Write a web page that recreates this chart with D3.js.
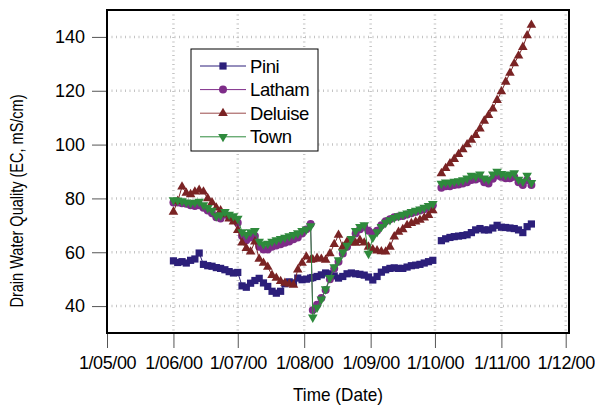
<!DOCTYPE html>
<html><head><meta charset="utf-8">
<script src="https://cdn.jsdelivr.net/npm/d3@7"></script>
<style>body{margin:0;background:#fff} text{font-family:"Liberation Sans",Arial,sans-serif;fill:#000}</style>
</head><body><svg id="c" width="595" height="409"></svg>
<script>
// ---- data ----
const dates1 = [
"2000-06-01","2000-06-03","2000-06-05","2000-06-07","2000-06-09","2000-06-11","2000-06-13","2000-06-15","2000-06-17","2000-06-19","2000-06-21","2000-06-23","2000-06-25","2000-06-27","2000-06-29",
"2000-07-01","2000-07-03","2000-07-05","2000-07-07","2000-07-09","2000-07-11","2000-07-13","2000-07-15","2000-07-17","2000-07-19","2000-07-21","2000-07-23","2000-07-25","2000-07-27","2000-07-29","2000-07-31",
"2000-08-02","2000-08-04","2000-08-05","2000-08-07","2000-08-09","2000-08-11","2000-08-13","2000-08-15","2000-08-17","2000-08-19","2000-08-21","2000-08-23","2000-08-25","2000-08-27","2000-08-29","2000-08-31",
"2000-09-02","2000-09-04","2000-09-06","2000-09-08","2000-09-10","2000-09-12","2000-09-14","2000-09-16","2000-09-18","2000-09-20","2000-09-22","2000-09-24","2000-09-26","2000-09-28","2000-09-30"];
const dates2 = ["2000-10-04","2000-10-06","2000-10-08","2000-10-10","2000-10-12","2000-10-14","2000-10-16","2000-10-18","2000-10-20","2000-10-22","2000-10-24","2000-10-26","2000-10-28","2000-10-30",
"2000-11-01","2000-11-03","2000-11-05","2000-11-07","2000-11-09","2000-11-11","2000-11-13","2000-11-15"];

const pini1 = [56.8,56.2,56.5,56,57,57.5,59.7,55.5,55,54.8,54.3,54,53.5,52.8,52.3,
  52.5,47.5,47,48.5,49.5,50.3,48.6,47.3,45.5,44.8,45.5,48.3,49,48.6,50.4,49.8,
  50,50.4,50.6,51,51.6,52.3,52,51.2,50.4,51,52,52.3,52,51.8,51.5,50.8,
  49.7,51,52.6,53.5,54,54.2,54,54,54.5,55,55.2,55.5,56,56.5,57];
const latham1 = [78.5,78.5,78.2,78,77.5,77.2,77.5,76.5,75.5,74.5,73,72.5,74,73,72.5,
  71,66,64.5,65.5,66,62,61,61,62,62.5,63,63.5,64,64.8,65.5,67,
  68.5,70.5,38.5,40.5,43,46,50,54,56.5,59.5,62,64.5,67,68.5,69.5,68,
  67,68,70,71.5,72.3,73,73.3,73.5,74,74.5,75,75.5,76,76.8,77.5];
const deluise1 = [75,79,84.3,82,81.5,82.5,83.1,82.5,80,78.5,76.5,75.5,74,72.5,71.3,
  68.2,63.5,61.5,60.2,63.9,57.5,56,54.5,51.5,50.4,49.2,48.6,48.2,47.8,53.5,56,
  58.3,57.1,57.3,57.8,57.5,57.1,59.5,63,66.4,62,63.9,63.6,63.4,64.5,63.5,62,
  61,60.6,60.3,60.2,62,65.8,67.5,68.5,70,70.8,71.3,72,72.8,73.8,75.5];
const town1 = [79.4,79.3,79,78.6,78.3,78.5,78.8,77.5,76.5,75.5,73.5,73.8,75,74,73.5,
  72.5,67.5,66.5,67.5,68,64,63,63.2,64,64.5,65,65.5,66,66.5,67.1,68,
  68.5,69.7,35.8,39.5,42.5,46.3,50.5,54.5,57.1,60,62.5,65,68,69.5,70.1,59.5,
  65.5,67.5,69.5,71,72,72.8,73.5,74,74.5,75,75.5,76,76.6,77.3,78];

const pini2 = [64.3,65,65.5,65.8,66,66.2,66.5,67.3,68.3,68.8,68.3,68.3,69,70,69.3,69.2,69,68.8,68.3,67.3,69.5,70.5];
const latham2 = [84,84.5,84.5,85,85.2,85.5,86,86.8,87,87.5,86,85.5,87.3,88.5,88,87.5,87.5,88,86,85,86.8,85];
const deluise2 = [89.3,91.2,93,94.6,96.4,98.2,100,101.7,103.5,105.9,108.8,110.9,113.3,116.5,119.7,123.3,126.6,130.1,133,136.2,140.5,144.4];
const town2 = [85.5,86,85.8,86.3,86.5,86.8,87.5,88.5,88.2,89,87.5,87,89,90,89.2,88.7,89,89.4,87,86.3,88.5,85.8];

const seriesNames = ["Pini","Latham","Deluise","Town"];
const xTicks = ["2000-05-01","2000-06-01","2000-07-01","2000-08-01","2000-09-01","2000-10-01","2000-11-01","2000-12-01"];
const xTickLabels = ["1/05/00","1/06/00","1/07/00","1/08/00","1/09/00","1/10/00","1/11/00","1/12/00"];
const yTicks = [40,60,80,100,120,140];
const yDomain = [30,150];
const xTitle = "Time (Date)";
const yTitle = "Drain Water Quality (EC, mS/cm)";

// ---- drawing ----
const parse = d3.timeParse("%Y-%m-%d");
const svg = d3.select("#c");
const L = 107, R = 569, T = 10, B = 333;
const x = d3.scaleTime().domain([parse("2000-05-01"), parse("2000-12-01")]).range([107, 565.7]);
const y = d3.scaleLinear().domain(yDomain).range([B, T]);

const styles = {
  Pini:    {color:"#2c1f7a", line:"#2c1f7a", sym:d3.symbolSquare,   size:52, rot:0},
  Latham:  {color:"#7e2c88", line:"#7e2c88", sym:d3.symbolCircle,   size:50, rot:0},
  Deluise: {color:"#7a2324", line:"#9a4a4a", sym:d3.symbolTriangle, size:40, rot:0},
  Town:    {color:"#2e8a3c", line:"#2e8a3c", sym:d3.symbolTriangle, size:40, rot:180}
};
const seriesData = {
  Pini: [pini1, pini2], Latham: [latham1, latham2], Deluise: [deluise1, deluise2], Town: [town1, town2]
};

// grid
const grid = svg.append("g");
yTicks.forEach(v => grid.append("line").attr("x1", L).attr("x2", R).attr("y1", y(v)).attr("y2", y(v))
  .attr("stroke", "#c4c4c4").attr("stroke-width", 2.5).attr("stroke-dasharray", "1 3.5"));
xTicks.slice(1).forEach(d => grid.append("line").attr("x1", x(parse(d))).attr("x2", x(parse(d))).attr("y1", T).attr("y2", B)
  .attr("stroke", "#c4c4c4").attr("stroke-width", 2.5).attr("stroke-dasharray", "1 3.5"));

// series
const line = d3.line().x(d => x(d[0])).y(d => y(d[1]));
const plot = svg.append("g");
seriesNames.forEach(name => {
  const st = styles[name];
  const g = plot.append("g");
  [[dates1, seriesData[name][0]], [dates2, seriesData[name][1]]].forEach(([ds, vs]) => {
    const pts = ds.map((d, i) => [parse(d), vs[i]]);
    g.append("path").attr("d", line(pts)).attr("fill", "none").attr("stroke", st.color).attr("stroke-width", 1);
    g.selectAll(null).data(pts).enter().append("path")
      .attr("d", d3.symbol().type(st.sym).size(st.size))
      .attr("transform", d => `translate(${x(d[0])},${y(d[1])}) rotate(${st.rot})`)
      .attr("fill", st.color);
  });
});

// frame
svg.append("rect").attr("x", L).attr("y", T).attr("width", R - L).attr("height", B - T)
  .attr("fill", "none").attr("stroke", "#000").attr("stroke-width", 2);

// axes
const xAxis = d3.axisBottom(x).tickValues(xTicks.map(parse)).tickFormat((d, i) => xTickLabels[i]).tickSize(14).tickPadding(8);
const gx = svg.append("g").attr("transform", `translate(0,${B + 1})`).call(xAxis);
gx.select(".domain").remove();
gx.selectAll(".tick line").attr("stroke", "#555");
gx.selectAll(".tick text").attr("font-size", 18).attr("font-family", "Liberation Sans, Arial, sans-serif").attr("fill", "#000").attr("letter-spacing", "-0.4");

const yAxis = d3.axisLeft(y).tickValues(yTicks).tickSize(14).tickPadding(7);
const gy = svg.append("g").attr("transform", `translate(${L - 1},0)`).call(yAxis);
gy.select(".domain").remove();
gy.selectAll(".tick line").attr("stroke", "#555");
gy.selectAll(".tick text").attr("font-size", 18).attr("font-family", "Liberation Sans, Arial, sans-serif").attr("fill", "#000");

svg.append("text").attr("x", 338).attr("y", 401).attr("text-anchor", "middle").attr("font-size", 18.5)
  .attr("textLength", 90).attr("lengthAdjust", "spacingAndGlyphs").text(xTitle);
svg.append("text").attr("transform", "translate(23,201) rotate(-90)").attr("text-anchor", "middle").attr("font-size", 18)
  .attr("textLength", 213).attr("lengthAdjust", "spacingAndGlyphs").text(yTitle);

// legend
const lg = svg.append("g");
lg.append("rect").attr("x", 191).attr("y", 49).attr("width", 127).attr("height", 102).attr("fill", "#fff").attr("stroke", "#000").attr("stroke-width", 1);
seriesNames.forEach((name, i) => {
  const st = styles[name];
  const cy = 66 + i * 23.6;
  lg.append("line").attr("x1", 200).attr("x2", 246).attr("y1", cy).attr("y2", cy).attr("stroke", st.line).attr("stroke-width", 1);
  lg.append("path").attr("d", d3.symbol().type(st.sym).size(st.size)).attr("transform", `translate(223,${cy}) rotate(${st.rot})`).attr("fill", st.color);
  lg.append("text").attr("x", 250).attr("y", cy + 6.5).attr("font-size", 18.5).attr("letter-spacing", "-0.4").text(name);
});
</script></body></html>
